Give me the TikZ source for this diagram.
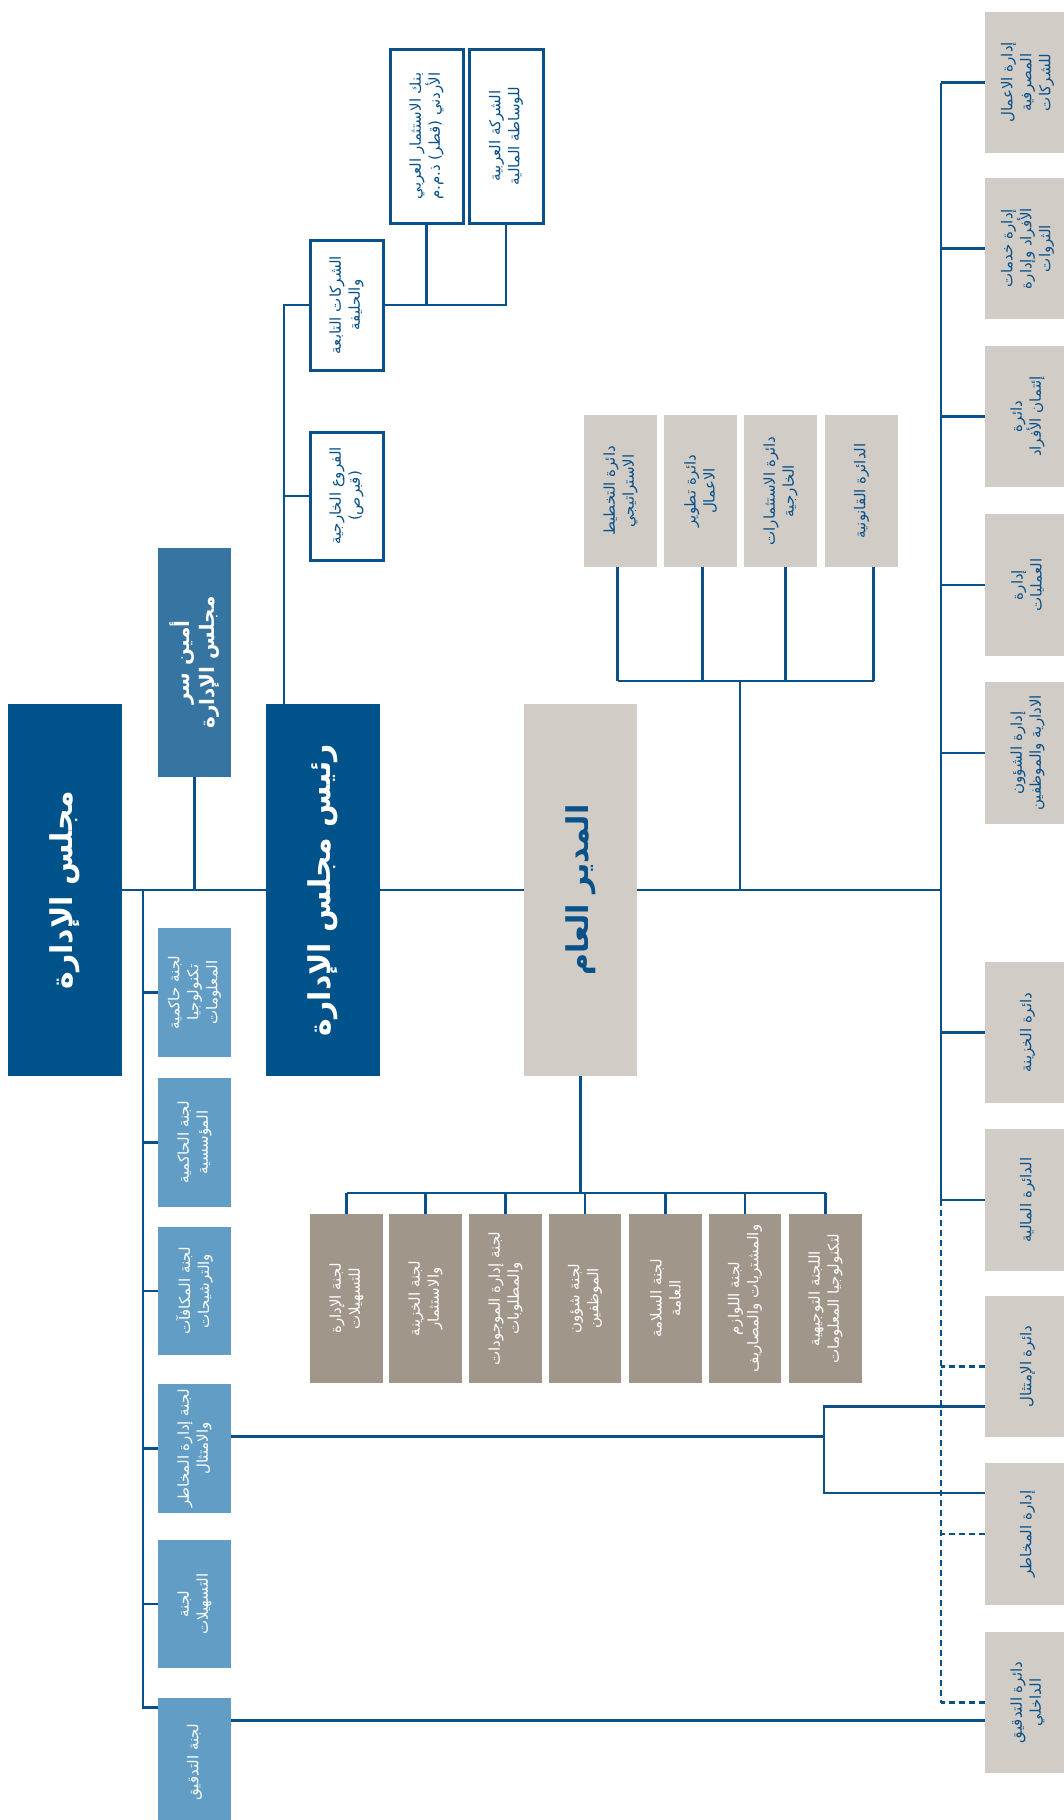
\documentclass[tikz,border=0pt]{standalone}
\usepackage{fontspec}
\newfontfamily\arfont[Script=Arabic]{DejaVu Sans}
\TeXXeTstate=1
\newcommand\AR[1]{\beginR #1\endR}
\definecolor{dblue}{HTML}{00538A}
\definecolor{mblue}{HTML}{3675A2}
\definecolor{lblue}{HTML}{619DC5}
\definecolor{lgrey}{HTML}{D1CCC6}
\definecolor{dgrey}{HTML}{A09689}
\definecolor{lnblue}{HTML}{0B5189}
\newcommand\mkbox[7]{%
  \node[#2, minimum width={#5-#3}, minimum height={#6-#4}] (#1) at ({(#3+#5)/2},{(#4+#6)/2}) {};
  \node[#2T] (#1-t) at (#1.center) {#7};
}
\tikzset{
  bx/.style={inner sep=0pt, outer sep=0pt, draw=none},
  tx/.style={rotate=90, align=center, inner sep=1pt},
  small/.style={font=\arfont\fontsize{15}{19}\selectfont},
  boardbox/.style={bx, fill=dblue},
  boardboxT/.style={tx, text=white, font=\arfont\bfseries\fontsize{30}{36}\selectfont},
  ceobox/.style={bx, fill=lgrey},
  ceoboxT/.style={tx, text=lnblue, font=\arfont\bfseries\fontsize{30}{36}\selectfont},
  secbox/.style={bx, fill=mblue},
  secboxT/.style={tx, text=white, font=\arfont\bfseries\fontsize{20}{25}\selectfont},
  combox/.style={bx, fill=lblue},
  comboxT/.style={tx, small, text=white},
  deptbox/.style={bx, fill=lgrey},
  deptboxT/.style={tx, small, text=lnblue},
  mgmtbox/.style={bx, fill=dgrey},
  mgmtboxT/.style={tx, small, text=white},
  outbox/.style={bx, draw=lnblue, line width=3pt, fill=white},
  outboxT/.style={tx, small, text=lnblue},
  conn/.style={draw=lnblue, line width=2.8pt},
  dotconn/.style={conn, dash pattern=on 6pt off 4pt},
}
\begin{document}
\begin{tikzpicture}[x=1pt,y=-1pt]
\useasboundingbox (0,0) rectangle (1064,1820);
\fill[white] (0,0) rectangle (1064,1820);

% top level
\mkbox{board}{boardbox}{8}{704}{122}{1076}{\AR{مجلس الإدارة}}
\mkbox{chair}{boardbox}{266}{704}{380}{1076}{\AR{رئيس مجلس الإدارة}}
\mkbox{ceo}{ceobox}{524}{704}{637}{1076}{\AR{المدير العام}}
\mkbox{sec}{secbox}{158}{548}{231}{777}{\AR{أمين سر}\\\AR{مجلس الإدارة}}

% board committees
\mkbox{c1}{combox}{158}{928}{231}{1057}{\AR{لجنة حاكمية}\\\AR{تكنولوجيا}\\\AR{المعلومات}}
\mkbox{c2}{combox}{158}{1078}{231}{1207}{\AR{لجنة الحاكمية}\\\AR{المؤسسية}}
\mkbox{c3}{combox}{158}{1227}{231}{1355}{\AR{لجنة المكافآت}\\\AR{والترشيحات}}
\mkbox{c4}{combox}{158}{1384}{231}{1513}{\AR{لجنة إدارة المخاطر}\\\AR{والامتثال}}
\mkbox{c5}{combox}{158}{1540}{231}{1668}{\AR{لجنة}\\\AR{التسهيلات}}
\mkbox{c6}{combox}{158}{1698}{231}{1827}{\AR{لجنة التدقيق}}

% branches and subsidiaries
\mkbox{branches}{outbox}{310}{432}{383}{560}{\AR{الفروع الخارجية}\\\AR{(قبرص)}}
\mkbox{subs}{outbox}{310}{240}{383}{370}{\AR{الشركات التابعة}\\\AR{والحليفة}}
\mkbox{bank1}{outbox}{390}{49}{463}{223}{\AR{بنك الاستثمار العربي}\\\AR{الأردني (قطر) ذ.م.م}}
\mkbox{bank2}{outbox}{469}{49}{543}{223}{\AR{الشركة العربية}\\\AR{للوساطة المالية}}

% departments reporting to CEO (top)
\mkbox{d1}{deptbox}{584}{415}{657}{567}{\AR{دائرة التخطيط}\\\AR{الاستراتيجي}}
\mkbox{d2}{deptbox}{664}{415}{737}{567}{\AR{دائرة تطوير}\\\AR{الاعمال}}
\mkbox{d3}{deptbox}{744}{415}{817}{567}{\AR{دائرة الاستثمارات}\\\AR{الخارجية}}
\mkbox{d4}{deptbox}{825}{415}{898}{567}{\AR{الدائرة القانونية}}

% management committees
\mkbox{m1}{mgmtbox}{310}{1214}{383}{1383}{\AR{لجنة الإدارة}\\\AR{للتسهيلات}}
\mkbox{m2}{mgmtbox}{389}{1214}{462}{1383}{\AR{لجنة الخزينة}\\\AR{والاستثمار}}
\mkbox{m3}{mgmtbox}{469}{1214}{542}{1383}{\AR{لجنة إدارة الموجودات}\\\AR{والمطلوبات}}
\mkbox{m4}{mgmtbox}{549}{1214}{621}{1383}{\AR{لجنة شؤون}\\\AR{الموظفين}}
\mkbox{m5}{mgmtbox}{629}{1214}{702}{1383}{\AR{لجنة السلامة}\\\AR{العامة}}
\mkbox{m6}{mgmtbox}{709}{1214}{781}{1383}{\AR{لجنة اللوازم}\\\AR{والمشتريات والمصاريف}}
\mkbox{m7}{mgmtbox}{789}{1214}{862}{1383}{\AR{اللجنة التوجيهية}\\\AR{لتكنولوجيا المعلومات}}

% right column
\mkbox{r1}{deptbox}{985}{12}{1070}{153}{\AR{إدارة الاعمال}\\\AR{المصرفية}\\\AR{للشركات}}
\mkbox{r2}{deptbox}{985}{178}{1070}{319}{\AR{إدارة خدمات}\\\AR{الأفراد وإدارة}\\\AR{الثروات}}
\mkbox{r3}{deptbox}{985}{346}{1070}{487}{\AR{دائرة}\\\AR{إئتمان الأفراد}}
\mkbox{r4}{deptbox}{985}{514}{1070}{656}{\AR{إدارة}\\\AR{العمليات}}
\mkbox{r5}{deptbox}{985}{682}{1070}{824}{\AR{إدارة الشؤون}\\\AR{الادارية والموظفين}}
\mkbox{r6}{deptbox}{985}{962}{1070}{1103}{\AR{دائرة الخزينة}}
\mkbox{r7}{deptbox}{985}{1129}{1070}{1271}{\AR{الدائرة المالية}}
\mkbox{r8}{deptbox}{985}{1296}{1070}{1437}{\AR{دائرة الإمتثال}}
\mkbox{r9}{deptbox}{985}{1463}{1070}{1605}{\AR{إدارة المخاطر}}
\mkbox{r10}{deptbox}{985}{1632}{1070}{1773}{\AR{دائرة التدقيق}\\\AR{الداخلي}}

% coordinates for trunk lines
\coordinate (lv) at (143,890);
\coordinate (cv) at ([xshift=18pt]chair.north west);
\coordinate (rv) at (941,890);
\coordinate (dh) at (740,681);
\coordinate (mh) at (584,1193);
\coordinate (bk) at (824,1450);

% main line
\draw[conn] (board.east) -- (chair.west);
\draw[conn] (chair.east) -- (ceo.west);
\draw[conn] (ceo.east) -- (rv);

% secretary
\draw[conn] (sec.south) -- (sec.south |- lv);

% board committees
\draw[conn] (lv) |- ([yshift=55pt]c6.west);
\foreach \c in {c1,c2,c3,c4,c5} \draw[conn] (\c.west) -- (\c.west -| lv);

% chairman: branches and subsidiaries
\draw[conn] (cv) |- (subs.west);
\draw[conn] (branches.west) -- (branches.west -| cv);
\draw[conn] (subs.east) -| (bank2.south);
\draw[conn] (bank1.south) -- (bank1.south |- subs.east);

% CEO top departments
\draw[conn] (ceo.east -| dh) -- (dh);
\coordinate (d1c) at ([xshift=-3pt]d1.south);
\coordinate (d2c) at ([xshift=2pt]d2.south);
\coordinate (d3c) at ([xshift=5pt]d3.south);
\coordinate (d4c) at ([xshift=12pt]d4.south);
\draw[conn] (d1c |- dh) -- (d4c |- dh);
\foreach \d in {d1c,d2c,d3c,d4c} \draw[conn] (\d) -- (\d |- dh);

% CEO management committees
\draw[conn] (ceo.south) -- (ceo.south |- mh);
\draw[conn] (m1.north |- mh) -- (m7.north |- mh);
\foreach \m in {m1,m2,m3,m4,m5,m6,m7} \draw[conn] (\m.north) -- (\m.north |- mh);

% right column
\draw[conn] (r1.west -| rv) -- (r7.west -| rv);
\foreach \r in {r1,r2,r3,r4,r5,r6,r7} \draw[conn] (\r.west) -- (\r.west -| rv);
\draw[dotconn] (r7.west -| rv) -- (r10.west -| rv);
\foreach \r in {r8,r9,r10} \draw[dotconn] (\r.west) -- (\r.west -| rv);

% risk committee to compliance and risk departments
\coordinate (ra) at ([yshift=-40pt]r8.west);
\coordinate (rb) at ([yshift=41pt]r9.west);
\draw[conn] ([yshift=12pt]c4.east) -- ([yshift=12pt]c4.east -| bk);
\draw[conn] (ra) -- (ra -| bk) -- (rb -| bk) -- (rb);

% audit committee to internal audit
\draw[conn] ([yshift=42pt]c6.east) -- ([yshift=42pt]c6.east -| r10.west);
\end{tikzpicture}
\end{document}
